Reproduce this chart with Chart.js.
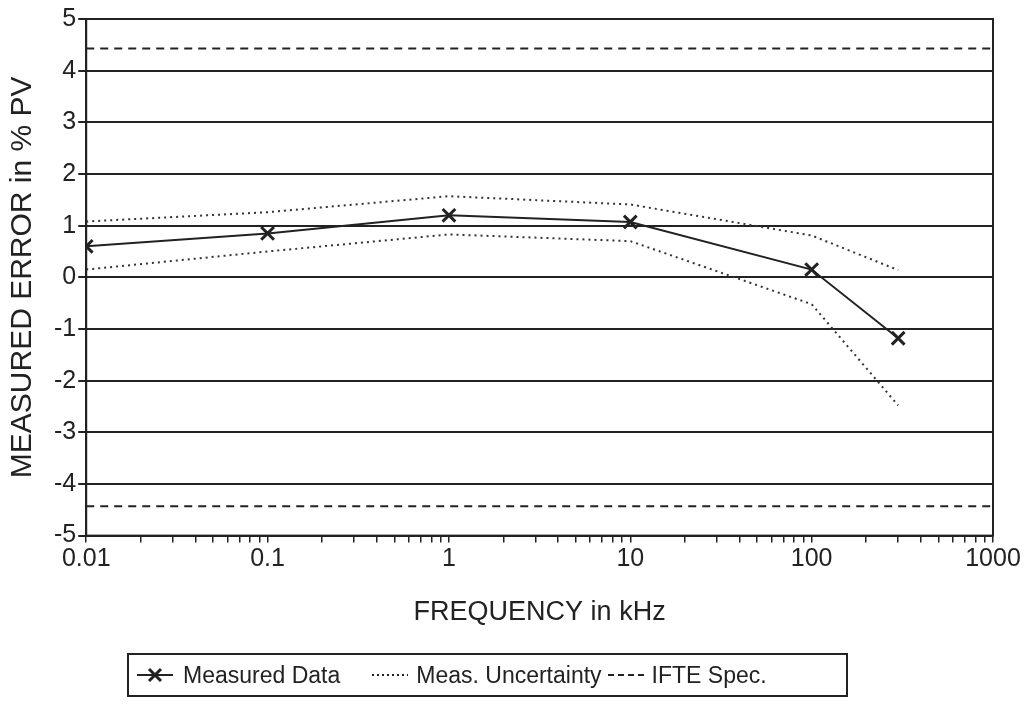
<!DOCTYPE html>
<html>
<head>
<meta charset="utf-8">
<script src="https://cdn.jsdelivr.net/npm/chart.js@4.4.1/dist/chart.umd.min.js"></script>
<style>
  body { margin: 0; background: #fff; }
  #wrap { position: relative; width: 1030px; height: 708px; }
  #legend {
    position: absolute; left: 127px; top: 653px; width: 721px; height: 44px;
    border: 2px solid #222; box-sizing: border-box;
    font-family: "Liberation Sans", Arial, sans-serif; font-size: 23px; color: #222;
    display: flex; align-items: center; padding-left: 6px;
  }
  #legend span { margin-right: 6px; }
  #legend svg { margin-right: 8px; }
</style>
</head>
<body>
<div id="wrap">
  <canvas id="myChart" width="1030" height="708"></canvas>
  <div id="legend"></div>
</div>
<script>
// 데이터
const freqs = [0.01, 0.1, 1, 10, 100, 300];
const measured = [0.60, 0.85, 1.20, 1.07, 0.15, -1.18];
const uncUpper = [1.08, 1.26, 1.57, 1.41, 0.81, 0.14];
const uncLower = [0.15, 0.50, 0.83, 0.70, -0.52, -2.48];
const specFreqs = [0.01, 1000];
const specUpper = [4.43, 4.43];
const specLower = [-4.43, -4.43];
const xDecades = [0.01, 0.1, 1, 10, 100, 1000];
const xTickLabels = ['0.01', '0.1', '1', '10', '100', '1000'];

const ink = '#222';
const fontName = '"Liberation Sans", Arial, sans-serif';

function pts(xs, ys) {
    return xs.map((x, i) => ({ x: x, y: ys[i] }));
}

// 외곽 사각형
const framePlugin = {
    id: 'frame',
    afterDraw(chart) {
        const a = chart.chartArea;
        const c = chart.ctx;
        c.save();
        c.strokeStyle = ink;
        c.lineWidth = 2;
        c.strokeRect(a.left, a.top, a.right - a.left, a.bottom - a.top);
        c.restore();
    }
};

const ctx = document.getElementById('myChart').getContext('2d');
const myChart = new Chart(ctx, {
    type: 'line',
    data: {
        datasets: [
            {
                label: 'Measured Data',
                data: pts(freqs, measured),
                borderColor: ink, borderWidth: 2,
                pointStyle: 'crossRot', pointRadius: 9, pointBorderWidth: 3,
                pointBorderColor: ink, tension: 0
            },
            {
                label: 'Meas. Uncertainty',
                data: pts(freqs, uncUpper),
                borderColor: '#333', borderWidth: 2, borderDash: [2, 4],
                pointRadius: 0, tension: 0
            },
            {
                label: 'Meas. Uncertainty (low)',
                data: pts(freqs, uncLower),
                borderColor: '#333', borderWidth: 2, borderDash: [2, 4],
                pointRadius: 0, tension: 0
            },
            {
                label: 'IFTE Spec.',
                data: pts(specFreqs, specUpper),
                borderColor: ink, borderWidth: 2, borderDash: [8, 6],
                pointRadius: 0
            },
            {
                label: 'IFTE Spec. (low)',
                data: pts(specFreqs, specLower),
                borderColor: ink, borderWidth: 2, borderDash: [8, 6],
                pointRadius: 0
            }
        ]
    },
    options: {
        responsive: false,
        animation: false,
        layout: { padding: { top: 19, right: 37, bottom: 79, left: 5 } },
        plugins: { legend: { display: false }, tooltip: { enabled: false } },
        scales: {
            x: {
                type: 'logarithmic',
                min: 0.01, max: 1000,
                afterBuildTicks(scale) {
                    const t = [];
                    xDecades.forEach((d, i) => {
                        t.push({ value: d });
                        if (i < xDecades.length - 1) {
                            for (let m = 2; m <= 9; m++) t.push({ value: d * m });
                        }
                    });
                    scale.ticks = t;
                },
                grid: { drawOnChartArea: false, drawTicks: true, tickLength: 7, color: ink, lineWidth: 1.5 },
                border: { display: true, color: ink, width: 2 },
                ticks: {
                    autoSkip: false, maxRotation: 0, color: ink, padding: 2,
                    font: { family: fontName, size: 25 },
                    callback(v) {
                        const i = xDecades.findIndex(d => Math.abs(d - v) / d < 1e-6);
                        return i >= 0 ? xTickLabels[i] : '';
                    }
                },
                title: {
                    display: true, text: 'FREQUENCY in kHz', color: ink,
                    font: { family: fontName, size: 27 }, padding: { top: 20, bottom: 0 }
                }
            },
            y: {
                min: -5, max: 5,
                ticks: { stepSize: 1, color: ink, padding: 2, font: { family: fontName, size: 25 } },
                grid: { color: ink, lineWidth: 2, tickLength: 8 },
                border: { display: true, color: ink, width: 2 },
                title: {
                    display: true, text: 'MEASURED ERROR in % PV', color: ink,
                    font: { family: fontName, size: 30 }, padding: { top: 0, bottom: 11 }
                }
            }
        }
    },
    plugins: [framePlugin]
});

// 범례
function sample(kind) {
    if (kind === 0) {
        return '<svg width="40" height="20"><line x1="2" y1="10" x2="38" y2="10" stroke="#222" stroke-width="2"/>' +
            '<path d="M14 4 L26 16 M26 4 L14 16" stroke="#222" stroke-width="3"/></svg>';
    }
    const dash = kind === 1 ? '2,3' : '6,4';
    return '<svg width="36" height="20"><line x1="0" y1="10" x2="36" y2="10" stroke="#222" stroke-width="2" stroke-dasharray="' + dash + '"/></svg>';
}
const legendNames = ['Measured Data', 'Meas. Uncertainty', 'IFTE Spec.'];
document.getElementById('legend').innerHTML = legendNames.map((n, i) =>
    sample(i) + '<span>' + n + '</span>' + (i === 0 ? '<span style="width:20px"></span>' : '')).join('');
</script>
</body>
</html>
